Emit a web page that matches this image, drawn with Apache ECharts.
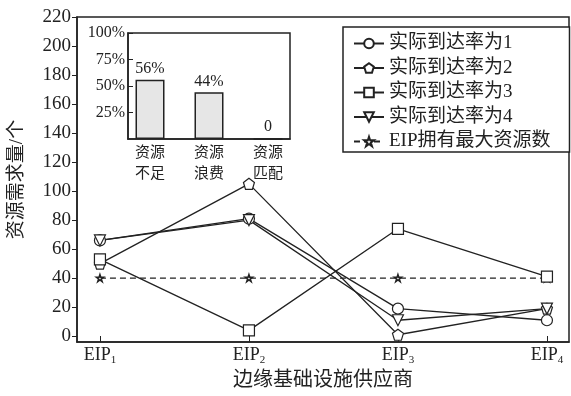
<!DOCTYPE html>
<html><head><meta charset="utf-8">
<script src="https://cdn.jsdelivr.net/npm/echarts@6/dist/echarts.min.js"></script>
<style>html,body{margin:0;padding:0;background:#fff}#c{width:571px;height:396px}</style>
</head><body><div id="c"></div>
<script>
const providers = ['EIP1','EIP2','EIP3','EIP4'];
const yTicks = [0,20,40,60,80,100,120,140,160,180,200,220];
const rate1 = [66,81,19,11];
const rate2 = [50,105,1,19];
const rate3 = [53,4,74,41];
const rate4 = [66,80,11,19];
const maxRes = [40,40,40,40];
const seriesNames = ['实际到达率为1','实际到达率为2','实际到达率为3','实际到达率为4','EIP拥有最大资源数'];
const insetCats = ['资源\n不足','资源\n浪费','资源\n匹配'];
const insetVals = [56,44,0];
const insetLabels = ['56%','44%','0'];
const insetTicks = [25,50,75,100];

const FF = "'Liberation Serif','Noto Sans CJK SC',serif";
const C = '#222';
const SYM = {
  circle: 'circle',
  pentagon: 'path://M5,0 L10,3.7 L8.1,10 L1.9,10 L0,3.7 Z',
  square: 'rect',
  tri: 'path://M0,0 L10,0 L5,9 Z',
  star: 'path://M5,0 L6.2,3.6 L10,3.6 L6.9,5.9 L8.1,9.6 L5,7.3 L1.9,9.6 L3.1,5.9 L0,3.6 L3.8,3.6 Z'
};
function mk(name, data, sym, size, dashed) {
  return {
    name, type: 'line', xAxisIndex: 0, yAxisIndex: 0,
    data: data.map((v,i)=>[i,v]),
    symbol: sym, symbolSize: size,
    lineStyle: {color: C, width: 1.3, type: dashed ? [6,4] : 'solid'},
    itemStyle: {color: '#fff', borderColor: C, borderWidth: dashed ? 1.6 : 1.2},
    z: dashed ? 2 : 3, animation: false
  };
}
const chart = echarts.init(document.getElementById('c'), null, {renderer:'canvas'});
chart.setOption({
  animation: false,
  textStyle: {fontFamily: FF, color: C},
  grid: [
    {left: 77, right: 2, top: 17, bottom: 53, show: true, borderColor: C, borderWidth: 1.5},
    {left: 128, right: 281, top: 33, bottom: 257, show: true, borderColor: C, borderWidth: 1.5}
  ],
  xAxis: [
    {type: 'value', gridIndex: 0, min: -0.154, max: 3.148,
     name: '边缘基础设施供应商', nameLocation: 'middle', nameGap: 29,
     nameTextStyle: {fontSize: 20, fontFamily: FF, color: C, verticalAlign: 'top'},
     axisLine: {onZero: false, lineStyle: {color: C, width: 1.5}},
     axisTick: {inside: true, length: 6, customValues: [0,1,2,3], lineStyle: {color: C}},
     splitLine: {show: false},
     axisLabel: {customValues: [0,1,2,3], margin: 3,
       formatter: v => { const s = providers[v]; return '{m|' + s.slice(0,3) + '}{s|' + s.slice(3) + '}'; },
       rich: {m: {fontSize: 18, fontFamily: FF, color: C}, s: {fontSize: 11, fontFamily: FF, color: C, padding: [10,0,0,0]}}}
    },
    {type: 'value', gridIndex: 1, min: -0.373, max: 2.373,
     axisLine: {onZero: false, lineStyle: {color: C, width: 1.5}},
     axisTick: {show: false}, splitLine: {show: false},
     axisLabel: {customValues: [0,1,2], margin: 4, fontSize: 15, lineHeight: 21, color: C, fontFamily: FF,
       formatter: v => insetCats[v]}
    }
  ],
  yAxis: [
    {type: 'value', gridIndex: 0, min: -4, max: 220,
     name: '资源需求量/个', nameLocation: 'middle', nameGap: 50,
     nameTextStyle: {fontSize: 19, fontFamily: FF, color: C},
     axisLine: {onZero: false, lineStyle: {color: C, width: 1.5}},
     axisTick: {length: 5, customValues: yTicks, lineStyle: {color: C}},
     splitLine: {show: false},
     axisLabel: {customValues: yTicks, margin: 6, fontSize: 19, color: C, fontFamily: FF}
    },
    {type: 'value', gridIndex: 1, min: 0, max: 100,
     axisLine: {onZero: false, lineStyle: {color: C, width: 1.5}},
     axisTick: {inside: true, length: 5, customValues: insetTicks, lineStyle: {color: C}},
     splitLine: {show: false},
     axisLabel: {customValues: insetTicks, margin: 3, fontSize: 16, color: C, fontFamily: FF, formatter: v => v + '%'}
    }
  ],
  legend: {
    orient: 'vertical', left: 343, top: 27,
    padding: [7, 19, 1, 10], itemGap: 5.5, itemWidth: 30, itemHeight: 12,
    borderColor: C, borderWidth: 1.5, backgroundColor: '#fff',
    textStyle: {fontSize: 19, fontFamily: FF, color: C, lineHeight: 18},
    data: seriesNames
  },
  series: [
    mk(seriesNames[0], rate1, SYM.circle, 11),
    mk(seriesNames[1], rate2, SYM.pentagon, 11),
    mk(seriesNames[2], rate3, SYM.square, 11),
    mk(seriesNames[3], rate4, SYM.tri, 11),
    mk(seriesNames[4], maxRes, SYM.star, 7, true),
    {type: 'bar', xAxisIndex: 1, yAxisIndex: 1, barWidth: 29,
     data: insetVals.map((v,i)=>[i,v]),
     itemStyle: {color: '#e6e6e6', borderColor: C, borderWidth: 1.5},
     label: {show: true, position: 'top', distance: 3, fontSize: 16, color: C, fontFamily: FF,
       formatter: p => insetLabels[p.dataIndex]},
     animation: false}
  ]
});
</script></body></html>
